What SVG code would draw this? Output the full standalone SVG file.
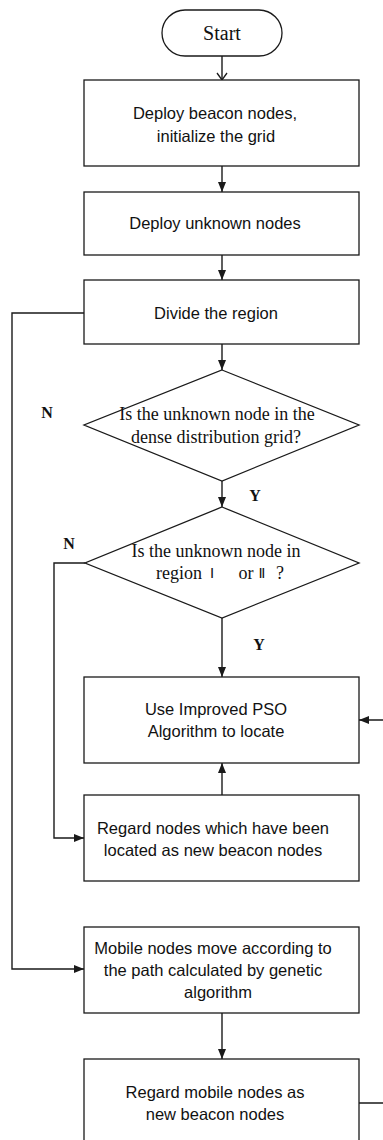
<svg xmlns="http://www.w3.org/2000/svg" width="383" height="1140" viewBox="0 0 383 1140">
<style>
.box{fill:#fff;stroke:#1a1a1a;stroke-width:1.3}
.ln{fill:none;stroke:#1a1a1a;stroke-width:1.4}
.t{font-family:"Liberation Sans",Arial,sans-serif;font-size:16.5px;fill:#111;text-anchor:middle}
.s{font-family:"Liberation Serif","Times New Roman",serif;font-size:18px;fill:#111;text-anchor:middle}
.lbl{font-family:"Liberation Serif","Times New Roman",serif;font-size:16px;font-weight:bold;fill:#111;text-anchor:middle}
.rn{font-family:"DejaVu Sans",sans-serif;font-size:14px;fill:#111;text-anchor:middle}
</style>
<defs>
<marker id="arr" markerUnits="userSpaceOnUse" markerWidth="10" markerHeight="10" viewBox="0 0 10 10" refX="10" refY="5" orient="auto">
<path d="M0,1 L10,5 L0,9 Z" fill="#1a1a1a"/>
</marker>
<marker id="open" markerUnits="userSpaceOnUse" markerWidth="12" markerHeight="12" viewBox="0 0 12 12" refX="11" refY="6" orient="auto">
<path d="M4,1 L11,6 L4,11" fill="none" stroke="#1a1a1a" stroke-width="1.3"/>
</marker>
</defs>

<g id="connectors">
<path class="ln" d="M222,56 V80" marker-end="url(#open)"/>
<path class="ln" d="M222,166 V192" marker-end="url(#arr)"/>
<path class="ln" d="M222,255 V280" marker-end="url(#arr)"/>
<path class="ln" d="M222,344 V370" marker-end="url(#arr)"/>
<path class="ln" d="M222,481 V507" marker-end="url(#arr)"/>
<path class="ln" d="M222,618 V677" marker-end="url(#arr)"/>
<path class="ln" d="M222,795 V763" marker-end="url(#arr)"/>
<path class="ln" d="M84,313 H12 V969 H84" marker-end="url(#arr)"/>
<path class="ln" d="M85,563 H54 V838 H84" marker-end="url(#arr)"/>
<path class="ln" d="M222,1013 V1059" marker-end="url(#arr)"/>
<path class="ln" d="M359,1103 H392 V720 H359" marker-end="url(#arr)"/>
<text class="lbl" x="47" y="418">N</text>
<text class="lbl" x="255" y="501">Y</text>
<text class="lbl" x="69" y="549">N</text>
<text class="lbl" x="259" y="650">Y</text>
</g>

<g id="start">
<rect x="162" y="10" width="120" height="46" rx="23" ry="23" class="box"/>
<text class="s" x="222" y="40" style="font-size:20px">Start</text>
</g>

<g id="deploy-beacon">
<rect x="84" y="80" width="275" height="86" class="box"/>
<text class="t" x="215" y="119">Deploy beacon nodes,</text>
<text class="t" x="216" y="142">initialize the grid</text>
</g>

<g id="deploy-unknown">
<rect x="84" y="192" width="275" height="63" class="box"/>
<text class="t" x="215" y="229">Deploy unknown nodes</text>
</g>

<g id="divide">
<rect x="84" y="280" width="275" height="64" class="box"/>
<text class="t" x="216" y="319">Divide the region</text>
</g>

<g id="decision-dense">
<path d="M222,370 L359,425 L222,481 L84,425 Z" class="box"/>
<text class="s" x="217" y="420">Is the unknown node in the</text>
<text class="s" x="216" y="443">dense distribution grid?</text>
</g>

<g id="decision-region">
<path d="M222,507 L359,563 L222,618 L85,563 Z" class="box"/>
<text class="s" x="216" y="557">Is the unknown node in</text>
<text class="s" x="179" y="579">region</text>
<text class="rn" x="212" y="578">Ⅰ</text>
<text class="s" x="246" y="579">or</text>
<text class="rn" x="262" y="578">Ⅱ</text>
<text class="s" x="280" y="579">?</text>
</g>

<g id="pso">
<rect x="84" y="677" width="275" height="86" class="box"/>
<text class="t" x="216" y="715">Use Improved PSO</text>
<text class="t" x="216" y="737">Algorithm to locate</text>
</g>

<g id="regard-located">
<rect x="84" y="795" width="275" height="86" class="box"/>
<text class="t" x="213" y="834">Regard nodes which have been</text>
<text class="t" x="213" y="856">located as new beacon nodes</text>
</g>

<g id="mobile-move">
<rect x="84" y="927" width="275" height="86" class="box"/>
<text class="t" x="213" y="954">Mobile nodes move according to</text>
<text class="t" x="213" y="976">the path calculated by genetic</text>
<text class="t" x="218" y="998">algorithm</text>
</g>

<g id="regard-mobile">
<rect x="84" y="1059" width="275" height="95" class="box"/>
<text class="t" x="215" y="1098">Regard mobile nodes as</text>
<text class="t" x="215" y="1120">new beacon nodes</text>
</g>
</svg>
